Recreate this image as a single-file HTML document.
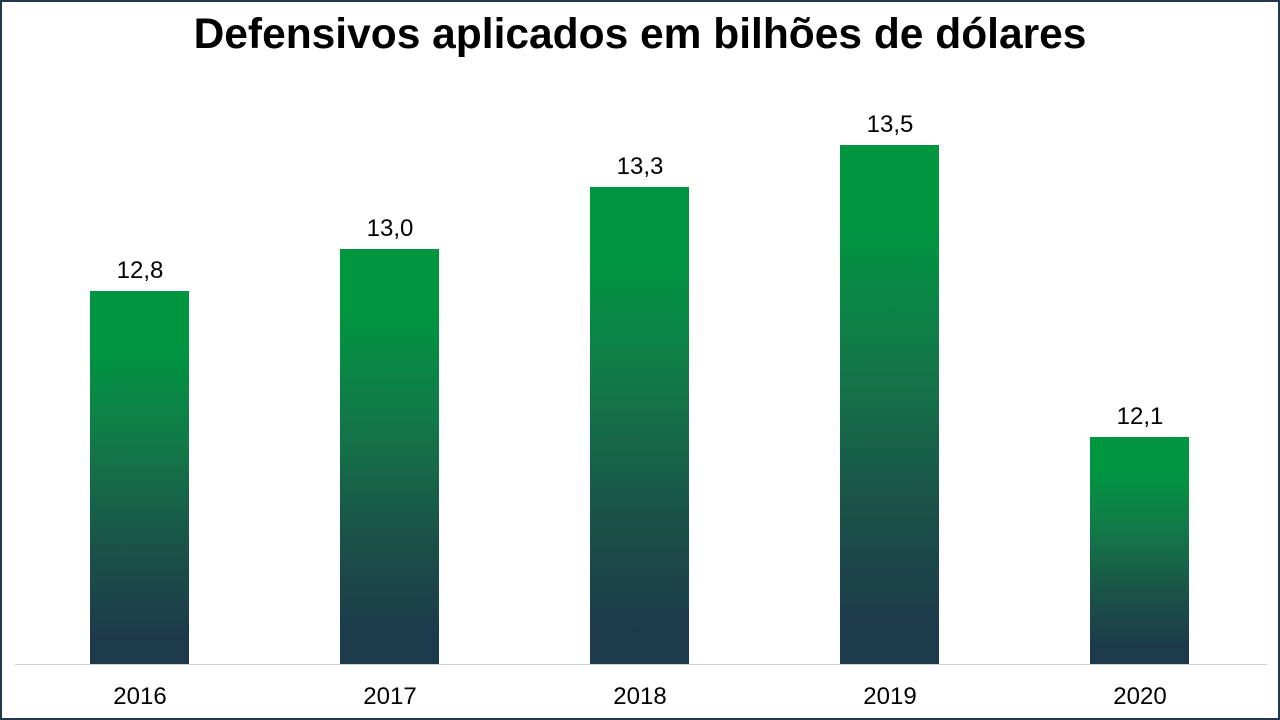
<!DOCTYPE html>
<html><head><meta charset="utf-8"><style>
body{margin:0;}
.c{position:relative;width:1276px;height:716px;border:2px solid #1f3a4a;background:#fff;font-family:"Liberation Sans",sans-serif;overflow:hidden}
.t{position:absolute;top:9px;left:0;width:100%;text-align:center;font-weight:bold;font-size:42.5px;color:#000}
.b{position:absolute;width:99px;background:linear-gradient(to bottom,#009640 0%,#009640 15%,#127a48 40%,#1a5148 70%,#1d3a4b 93%,#1d3a4b 100%)}
.v{position:absolute;width:140px;text-align:center;font-size:24px;color:#000}
.x{position:absolute;top:681px;width:140px;text-align:center;font-size:24px;color:#000}
.ax{position:absolute;left:13px;width:1252px;top:662px;height:1px;background:#d0d0d0}
</style></head><body><div class="c">
<div class="t">Defensivos aplicados em bilhões de dólares</div>
<div class="ax"></div>
<div class="b" style="left:88px;top:289px;height:373px"></div>
<div class="b" style="left:338px;top:247px;height:415px"></div>
<div class="b" style="left:588px;top:185px;height:477px"></div>
<div class="b" style="left:838px;top:143px;height:519px"></div>
<div class="b" style="left:1088px;top:435px;height:227px"></div>
<div class="v" style="left:68px;top:255px">12,8</div>
<div class="v" style="left:318px;top:213px">13,0</div>
<div class="v" style="left:568px;top:151px">13,3</div>
<div class="v" style="left:818px;top:109px">13,5</div>
<div class="v" style="left:1068px;top:401px">12,1</div>
<div class="x" style="left:68px">2016</div>
<div class="x" style="left:318px">2017</div>
<div class="x" style="left:568px">2018</div>
<div class="x" style="left:818px">2019</div>
<div class="x" style="left:1068px">2020</div>
</div></body></html>
